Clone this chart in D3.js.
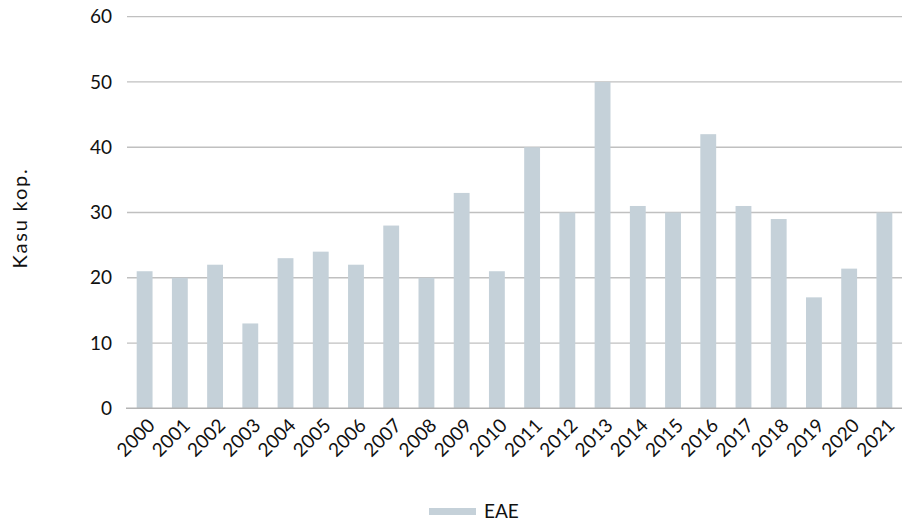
<!DOCTYPE html>
<html>
<head>
<meta charset="utf-8">
<script src="https://cdn.jsdelivr.net/npm/d3@7"></script>
<style>
  body { margin: 0; background: #fff; }
  svg { display: block; font-family: Lato, "Open Sans", sans-serif; }
</style>
</head>
<body>
<svg id="chart" width="902" height="523"></svg>
<script>
// Yearly counts
const years = ["2000","2001","2002","2003","2004","2005","2006","2007","2008","2009","2010",
               "2011","2012","2013","2014","2015","2016","2017","2018","2019","2020","2021"];
const counts = [21, 20, 22, 13, 23, 24, 22, 28, 20, 33, 21, 40, 30, 50, 31, 30, 42, 31, 29, 17, 21.4, 30];
const yTicks = [0, 10, 20, 30, 40, 50, 60];
const seriesName = "EAE";
const yTitle = "Kasu kop.";

const svg = d3.select("#chart");
const plotLeft = 127, plotRight = 902, plotTop = 16.7, plotBottom = 408.3;
const textColor = "#111";
const barColor = "#c5d1d9";

const x = d3.scaleBand().domain(years).range([plotLeft, plotRight]).paddingInner(0.55).paddingOuter(0.275);
const y = d3.scaleLinear().domain([0, 60]).range([plotBottom, plotTop]);

// horizontal gridlines
svg.append("g").selectAll("line").data(yTicks.filter(d => d > 0)).join("line")
  .attr("x1", plotLeft).attr("x2", plotRight)
  .attr("y1", d => y(d)).attr("y2", d => y(d))
  .attr("stroke", "#c0c0c0").attr("stroke-width", 1.3);

// bars
svg.append("g").selectAll("rect").data(years).join("rect")
  .attr("x", d => x(d))
  .attr("width", x.bandwidth())
  .attr("y", (d, i) => y(counts[i]))
  .attr("height", (d, i) => y(0) - y(counts[i]))
  .attr("fill", barColor);

// baseline
svg.append("line")
  .attr("x1", plotLeft - 1).attr("x2", plotRight)
  .attr("y1", y(0)).attr("y2", y(0))
  .attr("stroke", "#b4b4b4").attr("stroke-width", 1.5);

// y tick labels
svg.append("g").selectAll("text").data(yTicks).join("text")
  .attr("x", 112).attr("y", d => y(d))
  .attr("dy", "0.35em")
  .attr("text-anchor", "end")
  .attr("font-size", 19)
  .attr("fill", textColor)
  .text(d => d);

// x tick labels, rotated
svg.append("g").selectAll("text").data(years).join("text")
  .attr("transform", d => `translate(${x(d) + x.bandwidth() / 2 + 2},${plotBottom + 9}) rotate(-45)`)
  .attr("text-anchor", "end")
  .attr("dy", "0.7em")
  .attr("font-size", 19)
  .attr("fill", textColor)
  .text(d => d);

// y axis title
svg.append("text")
  .attr("transform", `translate(27,218) rotate(-90)`)
  .attr("text-anchor", "middle")
  .attr("font-size", 20)
  .attr("letter-spacing", 1.8)
  .attr("fill", textColor)
  .text(yTitle);

// legend
const lg = svg.append("g").attr("transform", "translate(429,508)");
lg.append("rect").attr("width", 47).attr("height", 7).attr("fill", barColor);
lg.append("text").attr("x", 55).attr("y", 3.5).attr("dy", "0.36em")
  .attr("font-size", 19).attr("fill", textColor).text(seriesName);
</script>
</body>
</html>
